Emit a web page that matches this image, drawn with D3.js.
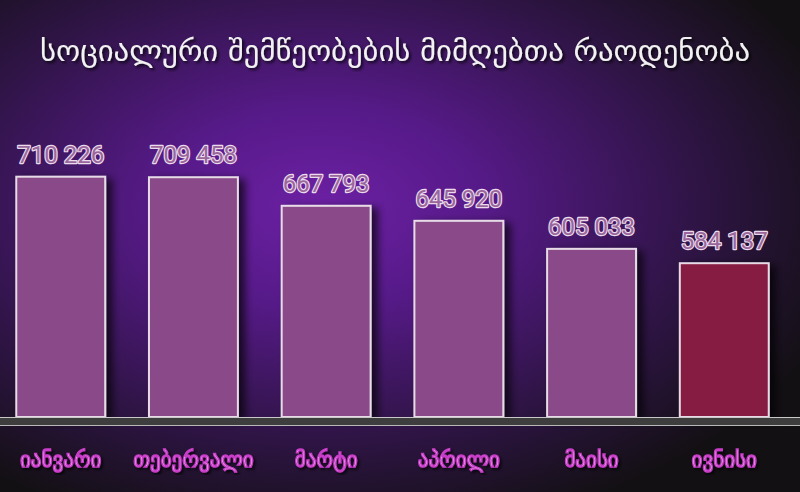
<!DOCTYPE html>
<meta charset="utf-8">
<style>
  body { margin: 0; background: #120c14; }
  svg { display: block; }
</style>
<body>
<script src="https://cdn.jsdelivr.net/npm/d3@7"></script>
<script>
// data
var months = ["იანვარი", "თებერვალი", "მარტი", "აპრილი", "მაისი", "ივნისი"];
var values = [710226, 709458, 667793, 645920, 605033, 584137];
var title = "სოციალური შემწეობების მიმღებთა რაოდენობა";

var width = 800, height = 492, baseY = 417;

var svg = d3.select("body").append("svg")
  .attr("width", width)
  .attr("height", height);

var defs = svg.append("defs");

// purple glow background
var bg = defs.append("radialGradient")
  .attr("id", "bg")
  .attr("cx", 0.4).attr("cy", 0.42).attr("r", 0.68);
bg.append("stop").attr("offset", 0).attr("stop-color", "#6c20a4");
bg.append("stop").attr("offset", 0.3).attr("stop-color", "#561a88");
bg.append("stop").attr("offset", 0.7).attr("stop-color", "#2e1444");
bg.append("stop").attr("offset", 1).attr("stop-color", "#131014");

var shadow = defs.append("filter").attr("id", "shadow")
  .attr("x", "-20%").attr("y", "-20%").attr("width", "150%").attr("height", "150%");
shadow.append("feDropShadow")
  .attr("dx", 6).attr("dy", 3).attr("stdDeviation", 4)
  .attr("flood-color", "#000").attr("flood-opacity", 0.7);

var txtShadow = defs.append("filter").attr("id", "tshadow");
txtShadow.append("feDropShadow")
  .attr("dx", 2).attr("dy", 2).attr("stdDeviation", 1.5)
  .attr("flood-color", "#000").attr("flood-opacity", 0.8);

svg.append("rect")
  .attr("width", width).attr("height", height)
  .attr("fill", "url(#bg)");

// scales
var x = d3.scaleBand()
  .domain(months)
  .range([3, 782])
  .paddingInner(0.33)
  .paddingOuter(0.1);

var y = d3.scaleLinear()
  .domain([360000, 720000])
  .range([baseY, baseY - 247]);

// title
svg.append("text")
  .attr("x", 40)
  .attr("y", 61)
  .attr("textLength", 710)
  .attr("lengthAdjust", "spacingAndGlyphs")
  .attr("font-family", "DejaVu Sans Condensed, DejaVu Sans")
  .attr("font-size", 29)
  .attr("fill", "#f2f2f2")
  .attr("filter", "url(#tshadow)")
  .text(title);

// bars
svg.selectAll(".bar")
  .data(values)
  .join("rect")
    .attr("class", "bar")
    .attr("x", function (d, i) { return x(months[i]); })
    .attr("y", function (d) { return y(d); })
    .attr("width", x.bandwidth())
    .attr("height", function (d) { return baseY - y(d); })
    .attr("fill", function (d, i) { return i == values.length - 1 ? "#861a42" : "#8a4a88"; })
    .attr("stroke", "#e6dbe6")
    .attr("stroke-width", 2)
    .attr("filter", "url(#shadow)");

// value labels
var fmt = function (v) { return d3.format(",")(v).replace(/,/g, " "); };
svg.selectAll(".val")
  .data(values)
  .join("text")
    .attr("class", "val")
    .attr("x", function (d, i) { return x(months[i]) + x.bandwidth() / 2; })
    .attr("y", function (d) { return y(d) - 14; })
    .attr("text-anchor", "middle")
    .attr("font-family", "Roboto")
    .attr("font-size", 24)
    .attr("fill", "#9a669c")
    .attr("stroke", "#eadcec")
    .attr("stroke-width", 2.4)
    .attr("paint-order", "stroke")
    .attr("stroke-linejoin", "round")
    .text(fmt);

// baseline
svg.append("rect")
  .attr("x", 0).attr("y", baseY)
  .attr("width", width).attr("height", 9)
  .attr("fill", "#3e3e3e");
svg.append("line")
  .attr("x1", 0).attr("x2", width)
  .attr("y1", baseY + 0.5).attr("y2", baseY + 0.5)
  .attr("stroke", "#c8c8c8");
svg.append("line")
  .attr("x1", 0).attr("x2", width)
  .attr("y1", baseY + 8.5).attr("y2", baseY + 8.5)
  .attr("stroke", "#b8b8b8");

// month labels
var xAxis = svg.append("g")
  .attr("transform", "translate(0," + (baseY + 10) + ")")
  .call(d3.axisBottom(x).tickSize(0).tickPadding(25));
xAxis.select(".domain").remove();
xAxis.selectAll("text")
  .attr("font-family", "DejaVu Sans")
  .attr("font-size", 21)
  .attr("fill", "#f8e0f8")
  .attr("stroke", "#c83cc8")
  .attr("stroke-width", 1.4)
  .attr("filter", "url(#tshadow)");
</script>
</body>
